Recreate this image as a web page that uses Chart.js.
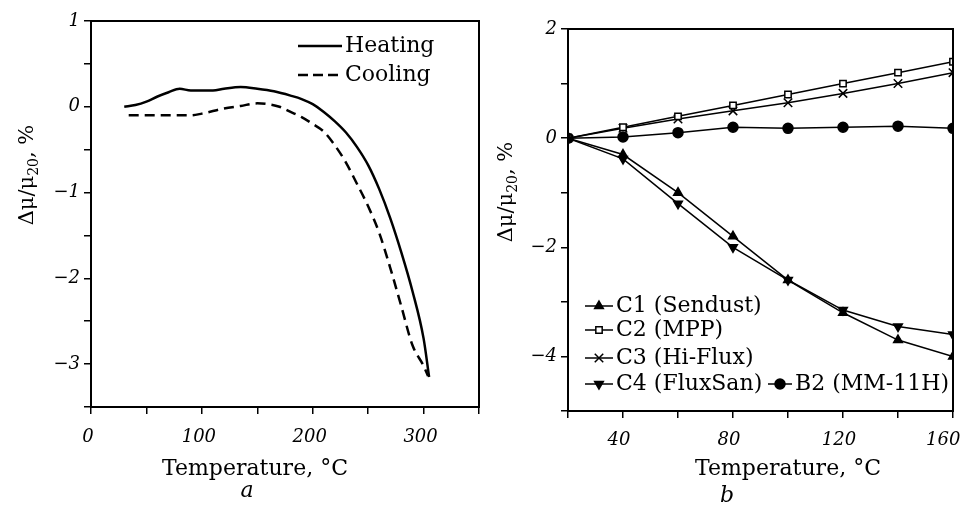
<!DOCTYPE html>
<html>
<head>
<meta charset="utf-8">
<script src="https://cdn.jsdelivr.net/npm/chart.js"></script>
<style>
  html, body { margin: 0; padding: 0; background: #fff; overflow: hidden; }
  #wrap { position: relative; width: 962px; height: 505px; overflow: hidden; }
  #chartA { position: absolute; left: 0; top: 0; }
  #chartB { position: absolute; left: 481px; top: 0; }
</style>
</head>
<body>
<div id="wrap">
  <canvas id="chartA" width="481" height="505"></canvas>
  <canvas id="chartB" width="500" height="505"></canvas>
</div>
<script>
// ---- data, panel a (heating / cooling curves) ----
const heatT  = [30, 40, 50, 60, 70, 80, 90, 110, 120, 135, 150, 165, 180, 190, 200, 210, 220, 230, 240, 250, 260, 270, 280, 290, 300, 305];
const heatMu = [0, 0.02, 0.06, 0.12, 0.17, 0.21, 0.19, 0.19, 0.21, 0.23, 0.21, 0.18, 0.13, 0.09, 0.03, -0.06, -0.17, -0.3, -0.47, -0.68, -0.96, -1.3, -1.7, -2.15, -2.7, -3.15];
const coolT  = [34, 50, 70, 90, 100, 110, 120, 135, 150, 160, 170, 180, 190, 200, 210, 220, 230, 240, 250, 260, 270, 280, 290, 300, 304];
const coolMu = [-0.1, -0.1, -0.1, -0.1, -0.08, -0.05, -0.02, 0.01, 0.04, 0.03, 0.0, -0.06, -0.12, -0.2, -0.29, -0.45, -0.65, -0.9, -1.16, -1.47, -1.88, -2.33, -2.78, -3.02, -3.14];
const xLabelsA = [0, 100, 200, 300];
const yLabelsA = [1, 0, -1, -2, -3];

// ---- data, panel b (materials) ----
const tempB = [20, 40, 60, 80, 100, 120, 140, 160];
const c1 = [0, -0.3, -1.0, -1.8, -2.6, -3.2, -3.7, -4.0];
const c2 = [0, 0.2, 0.4, 0.6, 0.8, 1.0, 1.2, 1.4];
const c3 = [0, 0.18, 0.35, 0.5, 0.65, 0.82, 1.0, 1.2];
const c4 = [0, -0.38, -1.2, -2.0, -2.6, -3.15, -3.45, -3.6];
const b2 = [0, 0.02, 0.1, 0.2, 0.18, 0.2, 0.22, 0.18];
const xLabelsB = [40, 80, 120, 160];
const yLabelsB = [2, 0, -2, -4];

const SERIF = '"DejaVu Serif", "Liberation Serif", serif';
const toPts = (xs, ys) => xs.map((x, i) => ({ x: x, y: ys[i] }));
const minus = v => (v < 0 ? '\u2212' + Math.abs(v) : String(v));

// frame + captions drawn on top of the chart
function decorPlugin(cfg) {
    return {
        id: 'decor',
        afterDraw(chart) {
            const ctx = chart.ctx;
            const a = chart.chartArea;
            ctx.save();
            // box round plot area
            ctx.strokeStyle = '#000';
            ctx.lineWidth = 2;
            ctx.strokeRect(a.left, a.top, a.right - a.left, a.bottom - a.top);

            ctx.fillStyle = '#000';
            // x title
            ctx.font = '22px ' + SERIF;
            ctx.textAlign = 'center';
            ctx.textBaseline = 'alphabetic';
            ctx.fillText('Temperature, \u00B0C', cfg.xTitleX, cfg.xTitleY);
            // panel letter
            ctx.font = 'italic 22px ' + SERIF;
            ctx.fillText(cfg.letter, cfg.letterX, cfg.letterY);

            // y title with subscript
            ctx.translate(cfg.yTitleX, cfg.yTitleY);
            ctx.rotate(-Math.PI / 2);
            ctx.textAlign = 'left';
            const big = '21px ' + SERIF, small = '14px ' + SERIF;
            ctx.font = big; const w1 = ctx.measureText('\u0394\u03BC/\u03BC').width;
            ctx.font = small; const w2 = ctx.measureText('20').width;
            ctx.font = big; const w3 = ctx.measureText(', %').width;
            let x = -(w1 + w2 + w3) / 2;
            ctx.font = big; ctx.fillText('\u0394\u03BC/\u03BC', x, 0); x += w1;
            ctx.font = small; ctx.fillText('20', x, 5); x += w2;
            ctx.font = big; ctx.fillText(', %', x, 0);
            ctx.restore();

            // legend
            if (cfg.legend) cfg.legend(chart, ctx);
        }
    };
}

function markerAt(ctx, ds, x, y) {
    ctx.save();
    ctx.strokeStyle = '#000';
    ctx.fillStyle = ds.pointBackgroundColor || '#000';
    ctx.lineWidth = ds.pointBorderWidth || 1.5;
    Chart.helpers.drawPoint(ctx, {
        pointStyle: ds.pointStyle,
        radius: ds.pointRadius,
        rotation: ds.pointRotation || 0,
        borderWidth: ds.pointBorderWidth || 1.5
    }, x, y);
    ctx.restore();
}

function axisCommon(min, max, step, labels, tickLen) {
    return {
        type: 'linear',
        min: min,
        max: max,
        ticks: {
            stepSize: step,
            autoSkip: false,
            maxRotation: 0,
            color: '#000',
            font: { family: SERIF, style: 'italic', size: 18 },
            callback: v => (labels.includes(v) ? minus(v) : '')
        },
        grid: { drawOnChartArea: false, drawTicks: true, tickLength: tickLen, color: '#000', lineWidth: 1.5 },
        border: { display: true, color: '#000', width: 2 }
    };
}

// x scale: fixed height, no label overhang padding (plot edges set by layout padding)
function fixX(h) {
    return s => { s.height = h; s.paddingLeft = 0; s.paddingRight = 0; };
}

// ---------------- panel a ----------------
const xA = axisCommon(0, 350, 50, xLabelsA, 7);
xA.ticks.padding = 13;
xA.ticks.labelOffset = -3;
xA.afterFit = fixX(98);
const yA = axisCommon(-3.5, 1, 0.5, yLabelsA, 7);
yA.ticks.padding = 4;
yA.afterFit = s => { s.width = 91; };

new Chart(document.getElementById('chartA'), {
    type: 'line',
    data: {
        datasets: [
            {
                label: 'Heating',
                data: toPts(heatT, heatMu),
                borderColor: '#000',
                borderWidth: 2.5,
                pointRadius: 0,
                cubicInterpolationMode: 'monotone',
                fill: false
            },
            {
                label: 'Cooling',
                data: toPts(coolT, coolMu),
                borderColor: '#000',
                borderWidth: 2.5,
                borderDash: [10, 6],
                pointRadius: 0,
                cubicInterpolationMode: 'monotone',
                fill: false
            }
        ]
    },
    options: {
        responsive: false,
        animation: false,
        layout: { padding: { left: 0, right: 2, top: 21, bottom: 0 } },
        plugins: { legend: { display: false }, tooltip: { enabled: false } },
        scales: { x: xA, y: yA }
    },
    plugins: [decorPlugin({
        xTitleX: 255, xTitleY: 475,
        letter: 'a', letterX: 247, letterY: 497,
        yTitleX: 33, yTitleY: 175,
        legend: (chart, ctx) => {
            const rows = [['Heating', [], 46], ['Cooling', [10, 5], 75]];
            ctx.save();
            ctx.strokeStyle = '#000';
            ctx.fillStyle = '#000';
            ctx.lineWidth = 2.5;
            ctx.font = '22px ' + SERIF;
            ctx.textBaseline = 'middle';
            rows.forEach(r => {
                ctx.setLineDash(r[1]);
                ctx.beginPath();
                ctx.moveTo(298, r[2]);
                ctx.lineTo(342, r[2]);
                ctx.stroke();
                ctx.fillText(r[0], 345, r[2]);
            });
            ctx.restore();
        }
    })]
});

// ---------------- panel b ----------------
const xB = axisCommon(20, 160, 20, xLabelsB, 7);
xB.ticks.padding = 12;
xB.ticks.labelOffset = -4;
// last label sits at the window edge: a trailing figure space pulls it left
xB.ticks.callback = v => (xLabelsB.includes(v) ? (v === 160 ? '160\u2007' : String(v)) : '');
xB.afterFit = fixX(94);
const yB = axisCommon(-5, 2, 1, yLabelsB, 7);
yB.ticks.padding = 4;
yB.afterFit = s => { s.width = 87; };

const lineB = (label, vals, style, extra) => Object.assign({
    label: label,
    data: toPts(tempB, vals),
    borderColor: '#000',
    borderWidth: 1.5,
    pointStyle: style,
    pointRadius: 5,
    pointBorderColor: '#000',
    pointBackgroundColor: '#000',
    pointBorderWidth: 1.5,
    tension: 0,
    fill: false
}, extra || {});

const dsB = [
    lineB('C1 (Sendust)', c1, 'triangle', { pointRadius: 5 }),
    lineB('C2 (MPP)', c2, 'rect', { pointRadius: 4.5, pointBackgroundColor: '#fff' }),
    lineB('C3 (Hi-Flux)', c3, 'crossRot', { pointRadius: 6 }),
    lineB('C4 (FluxSan)', c4, 'triangle', { pointRadius: 5, pointRotation: 180 }),
    lineB('B2 (MM-11H)', b2, 'circle', { pointRadius: 5 })
];

new Chart(document.getElementById('chartB'), {
    type: 'line',
    data: { datasets: dsB },
    options: {
        responsive: false,
        animation: false,
        layout: { padding: { left: 0, right: 28, top: 29, bottom: 0 } },
        plugins: { legend: { display: false }, tooltip: { enabled: false } },
        scales: { x: xB, y: yB }
    },
    plugins: [decorPlugin({
        xTitleX: 307, xTitleY: 475,
        letter: 'b', letterX: 246, letterY: 502,
        yTitleX: 31, yTitleY: 192,
        legend: (chart, ctx) => {
            // [dataset index, line start x, y, line length]
            const rows = [[0, 104, 306, 28], [1, 104, 330, 28], [2, 104, 358, 28], [3, 104, 384, 28], [4, 287, 384, 24]];
            ctx.save();
            ctx.font = '22px ' + SERIF;
            ctx.textBaseline = 'middle';
            rows.forEach(r => {
                const ds = dsB[r[0]];
                ctx.strokeStyle = '#000';
                ctx.lineWidth = 1.5;
                ctx.setLineDash([]);
                ctx.beginPath();
                ctx.moveTo(r[1], r[2]);
                ctx.lineTo(r[1] + r[3], r[2]);
                ctx.stroke();
                markerAt(ctx, ds, r[1] + r[3] / 2, r[2]);
                ctx.fillStyle = '#000';
                ctx.fillText(ds.label, r[1] + r[3] + 3, r[2]);
            });
            ctx.restore();
        }
    })]
});
</script>
</body>
</html>
